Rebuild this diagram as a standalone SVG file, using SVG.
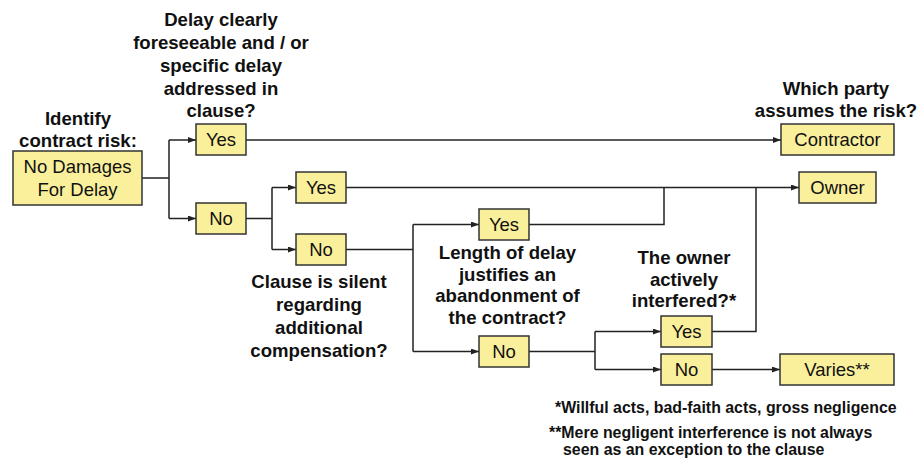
<svg xmlns="http://www.w3.org/2000/svg" width="920" height="461" viewBox="0 0 920 461">
<style>
.box{fill:#FAF09C;stroke:#333;stroke-width:1.5}
.bt{font-family:"Liberation Sans",Arial,sans-serif;font-size:18.5px;fill:#111;text-anchor:middle}
.q{font-family:"Liberation Sans",Arial,sans-serif;font-size:18.6px;font-weight:bold;fill:#111;text-anchor:middle}
.fn{font-family:"Liberation Sans",Arial,sans-serif;font-size:15.9px;font-weight:bold;fill:#111}
.c{fill:none;stroke:#222;stroke-width:1.5}
</style>
<defs>
<marker id="ah" markerWidth="8" markerHeight="6" refX="8" refY="3" orient="auto" markerUnits="userSpaceOnUse">
<path d="M0,0 L8,3 L0,6 Z" fill="#222"/>
</marker>
</defs>
<g id="connectors">
<path class="c" d="M142,178 H169 M169,140 V218.5"/>
<path class="c" d="M169,140 H196" marker-end="url(#ah)"/>
<path class="c" d="M169,218.5 H196" marker-end="url(#ah)"/>
<path class="c" d="M246,140 H781" marker-end="url(#ah)"/>
<path class="c" d="M246,218.5 H272 M272,187.5 V249.5"/>
<path class="c" d="M272,187.5 H296" marker-end="url(#ah)"/>
<path class="c" d="M272,249.5 H296" marker-end="url(#ah)"/>
<path class="c" d="M346,187.5 H799" marker-end="url(#ah)"/>
<path class="c" d="M346,249.5 H413 M413,224.5 V351.5"/>
<path class="c" d="M413,224.5 H479" marker-end="url(#ah)"/>
<path class="c" d="M413,351.5 H479" marker-end="url(#ah)"/>
<path class="c" d="M529,224.5 H664 V187.5"/>
<path class="c" d="M529,351.5 H595 M595,331.5 V369.5"/>
<path class="c" d="M595,331.5 H661" marker-end="url(#ah)"/>
<path class="c" d="M595,369.5 H661" marker-end="url(#ah)"/>
<path class="c" d="M712,331.5 H756 V187.5"/>
<path class="c" d="M712,369.5 H780" marker-end="url(#ah)"/>
</g>
<g id="start">
<rect class="box" x="13" y="151" width="129" height="54"/>
<text class="bt" x="77.5" y="173">No Damages</text>
<text class="bt" x="77.5" y="196">For Delay</text>
</g>
<g id="yes1"><rect class="box" x="196" y="124" width="50" height="31"/><text class="bt" x="221" y="146">Yes</text></g>
<g id="no1"><rect class="box" x="196" y="203" width="50" height="31"/><text class="bt" x="221" y="225">No</text></g>
<g id="yes2"><rect class="box" x="296" y="172" width="50" height="31"/><text class="bt" x="321" y="194">Yes</text></g>
<g id="no2"><rect class="box" x="296" y="234" width="50" height="31"/><text class="bt" x="321" y="256">No</text></g>
<g id="yes3"><rect class="box" x="479" y="209" width="50" height="31"/><text class="bt" x="504" y="231">Yes</text></g>
<g id="no3"><rect class="box" x="479" y="336" width="50" height="31"/><text class="bt" x="504" y="358">No</text></g>
<g id="yes4"><rect class="box" x="661" y="316" width="51" height="31"/><text class="bt" x="686.5" y="338">Yes</text></g>
<g id="no4"><rect class="box" x="661" y="354" width="51" height="31"/><text class="bt" x="686.5" y="376">No</text></g>
<g id="contractor"><rect class="box" x="781" y="124" width="113" height="31"/><text class="bt" x="837.5" y="146">Contractor</text></g>
<g id="owner"><rect class="box" x="799" y="172" width="77" height="31"/><text class="bt" x="837.5" y="194">Owner</text></g>
<g id="varies"><rect class="box" x="780" y="354" width="114" height="31"/><text class="bt" x="837" y="376">Varies**</text></g>
<g id="labels">
<text class="q" x="78" y="125">Identify</text>
<text class="q" x="78" y="147">contract risk:</text>
<text class="q" x="221" y="26">Delay clearly</text>
<text class="q" x="221" y="49">foreseeable and / or</text>
<text class="q" x="221" y="72">specific delay</text>
<text class="q" x="221" y="94.5">addressed in</text>
<text class="q" x="221" y="117">clause?</text>
<text class="q" x="836" y="95">Which party</text>
<text class="q" x="836" y="117">assumes the risk?</text>
<text class="q" x="319" y="288">Clause is silent</text>
<text class="q" x="319" y="311">regarding</text>
<text class="q" x="319" y="334">additional</text>
<text class="q" x="319" y="357">compensation?</text>
<text class="q" x="507.5" y="259">Length of delay</text>
<text class="q" x="507.5" y="281">justifies an</text>
<text class="q" x="507.5" y="302">abandonment of</text>
<text class="q" x="507.5" y="324">the contract?</text>
<text class="q" x="684" y="264">The owner</text>
<text class="q" x="684" y="285.5">actively</text>
<text class="q" x="684" y="307">interfered?*</text>
<text class="fn" x="555" y="413">*Willful acts, bad-faith acts, gross negligence</text>
<text class="fn" x="549" y="438">**Mere negligent interference is not always</text>
<text class="fn" x="563" y="455">seen as an exception to the clause</text>
</g>
</svg>
